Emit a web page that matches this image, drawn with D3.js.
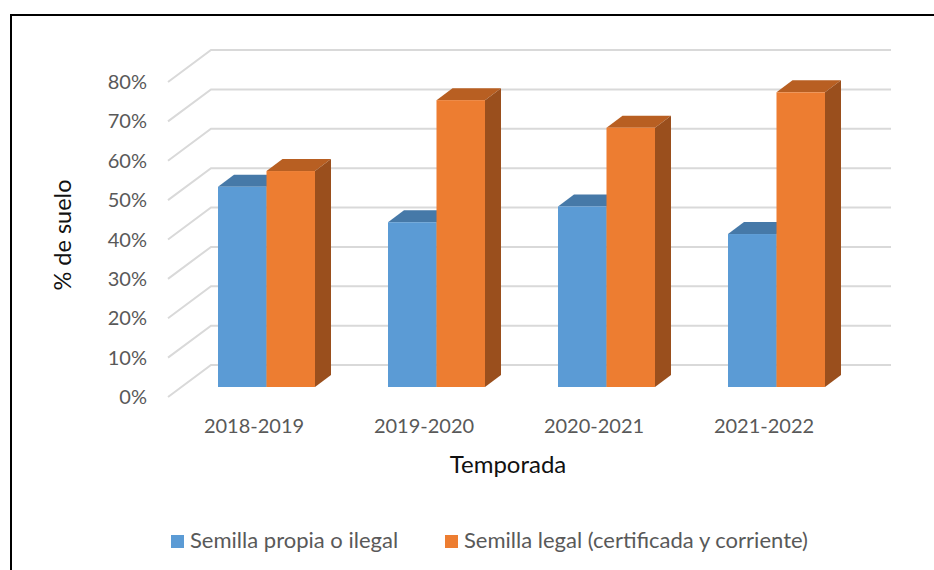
<!DOCTYPE html>
<html>
<head>
<meta charset="utf-8">
<script src="https://cdn.jsdelivr.net/npm/d3@7"></script>
<style>
  html, body { margin: 0; padding: 0; background: #fff; }
  text { font-family: Lato, "Open Sans", sans-serif; fill: #595959; }
</style>
</head>
<body>
<div id="canvas"></div>
<script>
"use strict"

let categories = ["2018-2019", "2019-2020", "2020-2021", "2021-2022"];
let seriesNames = ["Semilla propia o ilegal", "Semilla legal (certificada y corriente)"];
let propia = [0.51, 0.42, 0.46, 0.39];
let legal = [0.55, 0.73, 0.66, 0.75];
let ticks = [0, 0.1, 0.2, 0.3, 0.4, 0.5, 0.6, 0.7, 0.8];

let svgWidth = 934;
let svgHeight = 570;

/* colours: front, top, side */
let blue = ["#5b9bd5", "#4679a8", "#3c6a94"];
let orange = ["#ed7d31", "#b85f22", "#9a4f1d"];

/* Oblique offset of the back wall and of the bars inside the floor */
let wallDx = 43, wallDy = -32;
let barDx = 14, barDy = -10;
let depthDx = 16, depthDy = -12;

let svg = d3.select("#canvas")
    .append("svg")
    .attr("width", svgWidth)
    .attr("height", svgHeight)
    .style("display", "block");

let xScale = d3.scaleBand()
    .domain(categories)
    .range([168, 848]);

let yScale = d3.scaleLinear()
    .domain([0, 0.8])
    .range([397, 82]);

/* Outer border: only left and top are in the crop */
svg.append("path")
    .attr("d", "M11,570V15H934")
    .attr("fill", "none")
    .attr("stroke", "black")
    .attr("stroke-width", 2);

/* Gridlines: floor/side segment plus back wall segment */
svg.selectAll(".grid")
    .data(ticks)
    .join("polyline")
    .attr("class", "grid")
    .attr("fill", "none")
    .attr("stroke", "#d9d9d9")
    .attr("stroke-width", 2)
    .attr("points", function(d) {
        let y = yScale(d);
        return [[168, y], [168 + wallDx, y + wallDy], [848 + wallDx, y + wallDy]].join(" ");
    });

/* Y tick labels */
svg.selectAll(".ytick")
    .data(ticks)
    .join("text")
    .attr("class", "ytick")
    .attr("x", 147)
    .attr("y", function(d) { return yScale(d); })
    .attr("text-anchor", "end")
    .attr("font-size", 20)
    .attr("dy", "0.35em")
    .text(d3.format(".0%"));

/* X tick labels */
svg.selectAll(".xtick")
    .data(categories)
    .join("text")
    .attr("class", "xtick")
    .attr("x", function(d) { return xScale(d) + xScale.bandwidth() / 2 + 1; })
    .attr("y", 433)
    .attr("text-anchor", "middle")
    .attr("font-size", 20)
    .text(function(d) { return d; });

/* One 3D bar: top and side faces behind the front face */
let barWidth = 48.5;
let gapLeft = 36;

function drawBars(values, colors, offset) {
    let g = svg.append("g");
    categories.forEach(function(c, i) {
        let x0 = xScale(c) + barDx + gapLeft + offset * barWidth;
        let x1 = x0 + barWidth;
        let yBase = yScale(0) + barDy;
        let yTop = yBase - (yScale(0) - yScale(values[i])) + 0.6;
        g.append("polygon")
            .attr("fill", colors[1])
            .attr("points", [[x0, yTop], [x0 + depthDx, yTop + depthDy], [x1 + depthDx, yTop + depthDy], [x1, yTop]].join(" "));
        g.append("polygon")
            .attr("fill", colors[2])
            .attr("points", [[x1, yTop], [x1 + depthDx, yTop + depthDy], [x1 + depthDx, yBase + depthDy], [x1, yBase]].join(" "));
        g.append("rect")
            .attr("fill", colors[0])
            .attr("x", x0)
            .attr("y", yTop)
            .attr("width", barWidth)
            .attr("height", yBase - yTop);
    });
}

drawBars(propia, blue, 0);
drawBars(legal, orange, 1);

/* Axis titles */
svg.append("text")
    .attr("x", 508)
    .attr("y", 473)
    .attr("text-anchor", "middle")
    .attr("font-size", 24)
    .style("fill", "#111")
    .text("Temporada");

svg.append("text")
    .attr("transform", "rotate(-90)")
    .attr("x", -235)
    .attr("y", 71)
    .attr("text-anchor", "middle")
    .attr("font-size", 23.5)
    .style("fill", "#111")
    .text("% de suelo");

/* Legend */
let legendX = [171, 445];
seriesNames.forEach(function(name, i) {
    svg.append("rect")
        .attr("x", legendX[i])
        .attr("y", 535)
        .attr("width", 13)
        .attr("height", 13)
        .attr("fill", i == 0 ? blue[0] : orange[0]);
    svg.append("text")
        .attr("x", legendX[i] + 19)
        .attr("y", 548)
        .attr("font-size", 22)
        .text(name);
});
</script>
</body>
</html>
